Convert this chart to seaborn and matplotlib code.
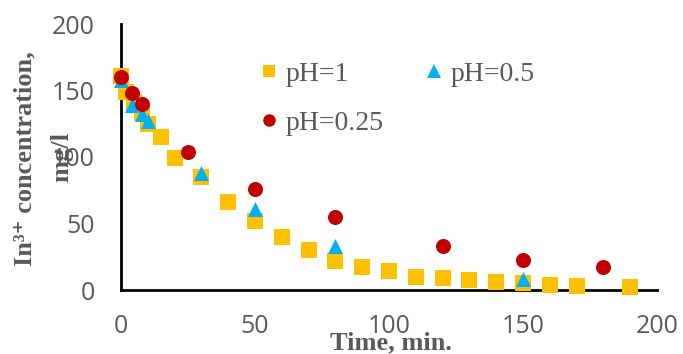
import matplotlib
matplotlib.use("Agg")
import matplotlib.pyplot as plt
import seaborn as sns
import pandas as pd
from matplotlib.lines import Line2D

# ---- data ----
x_ph1 = [0, 2, 5, 8, 10, 15, 20, 30, 40, 50, 60, 70, 80, 90, 100, 110, 120, 130, 140, 150, 160, 170, 190]
y_ph1 = [161, 149, 141, 133, 125, 115, 99, 85, 66, 52, 40, 30, 22, 17, 14, 10, 9, 7.5, 6, 5, 4, 3, 2]

x_ph05 = [0, 4, 8, 10, 30, 50, 80, 150]
y_ph05 = [158, 139, 132, 127, 88, 61, 33, 8]

x_ph025 = [0, 4, 8, 25, 50, 80, 120, 150, 180]
y_ph025 = [160, 148, 140, 104, 76, 55, 33, 22.5, 17]

labels = ["pH=1", "pH=0.5", "pH=0.25"]
x_ticks = [0, 50, 100, 150, 200]
y_ticks = [0, 50, 100, 150, 200]

c_ph1 = "#FFC000"
c_ph05 = "#00B0F0"
c_ph025 = "#C00000"
gray = "#595959"

sns.set_theme(style="white")

fig = plt.figure(figsize=(6.83, 3.54), dpi=100)
ax = fig.add_axes([121 / 683, 1 - 290 / 354, (657 - 121) / 683, (290 - 24) / 354])

df1 = pd.DataFrame({"x": x_ph1, "y": y_ph1})
df2 = pd.DataFrame({"x": x_ph05, "y": y_ph05})
df3 = pd.DataFrame({"x": x_ph025, "y": y_ph025})

S = 117
sns.scatterplot(data=df1, x="x", y="y", ax=ax, marker="s", s=S, color=c_ph1, linewidth=0, zorder=3)
sns.scatterplot(data=df2, x="x", y="y", ax=ax, marker="^", s=S, color=c_ph05, linewidth=0, zorder=4)
sns.scatterplot(data=df3, x="x", y="y", ax=ax, marker="o", s=S, color=c_ph025, linewidth=0, zorder=5)

ax.set_xlim(0, 200)
ax.set_ylim(0, 200)
ax.set_xticks(x_ticks)
ax.set_yticks(y_ticks)
ax.set_xticklabels([str(v) for v in x_ticks])
ax.set_yticklabels([str(v) for v in y_ticks])

for s in ["top", "right"]:
    ax.spines[s].set_visible(False)
for s in ["left", "bottom"]:
    ax.spines[s].set_color("black")
    ax.spines[s].set_linewidth(2)
ax.spines["bottom"].set_capstyle("projecting")

ax.tick_params(axis="both", which="major", direction="out", length=5, width=2,
               color="black", labelcolor=gray, labelsize=18)
ax.tick_params(axis="x", pad=12)
ax.tick_params(axis="y", pad=14)
for lab in ax.get_xticklabels() + ax.get_yticklabels():
    lab.set_fontfamily("Open Sans")
for t in ax.xaxis.get_major_ticks() + ax.yaxis.get_major_ticks():
    t.tick1line.set_clip_on(False)
ax.set_xlabel("")
ax.set_ylabel("")
for coll in ax.collections:
    coll.set_clip_on(False)

serif = ["Liberation Serif", "DejaVu Serif"]
fig.text(391 / 683, 1 - 343 / 354, "Time, min.", ha="center", va="center",
         fontfamily=serif, fontweight="bold", fontsize=19, color=gray)
fig.text(25 / 683, 1 - 159 / 354, "In\u00b3\u207a concentration,", rotation=90, ha="center", va="center",
         fontfamily=serif, fontweight="bold", fontsize=19, color=gray)
fig.text(62 / 683, 1 - 157 / 354, "mg/l", rotation=90, ha="center", va="center",
         fontfamily=serif, fontweight="bold", fontsize=19, color=gray)

h1 = Line2D([], [], linestyle="none", marker="s", markersize=8, color=c_ph1, markeredgewidth=0)
h2 = Line2D([], [], linestyle="none", marker="^", markersize=10, color=c_ph05, markeredgewidth=0)
h3 = Line2D([], [], linestyle="none", marker="o", markersize=9, color=c_ph025, markeredgewidth=0)
leg = ax.legend([h1, h3, h2], [labels[0], labels[2], labels[1]], ncol=2, frameon=False,
                loc="upper left", bbox_to_anchor=(0.24, 0.9),
                prop={"family": "Liberation Serif", "size": 20},
                handlelength=0.6, handletextpad=0.3, columnspacing=1.5, labelspacing=0.85,
                borderaxespad=0)
for t in leg.get_texts():
    t.set_color(gray)

fig.savefig("out.png", dpi=100)
